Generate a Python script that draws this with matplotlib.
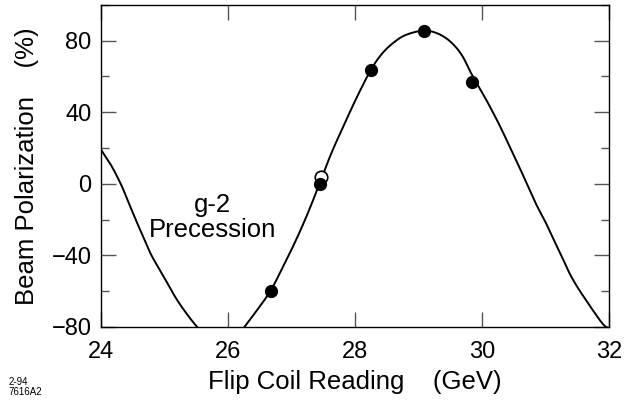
import matplotlib
matplotlib.use("Agg")
import matplotlib.pyplot as plt
import numpy as np
from matplotlib.ticker import MultipleLocator

plt.rcParams['font.family'] = ['Liberation Sans', 'DejaVu Sans']

# Measured points (filled) and one open point
gev_filled = [26.67, 27.44, 28.25, 29.08, 29.84]
pol_filled = [-59.8, 0.0, 63.7, 85.6, 56.8]
gev_open = [27.46]
pol_open = [3.7]

# Precession curve
curve_x = [24.00, 24.16, 24.32, 24.45, 24.56, 24.68, 24.79, 25.00, 25.21, 25.48,
           25.70, 25.90, 26.10, 26.28, 26.47, 26.67, 26.85, 27.05, 27.25,
           27.44, 27.62, 27.82, 28.03, 28.25, 28.42, 28.60, 28.80, 29.08, 29.30,
           29.50, 29.68, 29.84, 30.05, 30.28, 30.45, 30.60, 30.73, 30.86, 31.00,
           31.12, 31.26, 31.39, 31.52, 31.65, 31.78, 31.91, 32.00]
curve_y = [19.0, 10.2, -0.9, -12.0, -21.3, -31.0, -39.8, -52.8, -65.7, -78.7,
           -86.5, -90.0, -87.0, -79.0, -70.0, -59.8, -47.5, -33.0, -17.0,
           0.0, 16.5, 32.4, 48.5, 63.7, 72.5, 78.7, 83.2, 85.6, 84.0,
           79.5, 72.0, 61.0, 48.0, 32.4, 19.5, 8.3, -2.0, -12.0, -21.5,
           -30.6, -41.0, -50.9, -58.8, -65.7, -72.5, -78.7, -81.0]


def smooth_line(xs, ys, n=12):
    """Catmull-Rom rendering of a polyline through the given points."""
    p = np.column_stack([xs, ys]).astype(float)
    p = np.vstack([2 * p[0] - p[1], p, 2 * p[-1] - p[-2]])
    out = []
    t = np.linspace(0, 1, n, endpoint=False)[:, None]
    for i in range(1, len(p) - 2):
        p0, p1, p2, p3 = p[i - 1], p[i], p[i + 1], p[i + 2]
        seg = 0.5 * ((2 * p1) + (-p0 + p2) * t + (2 * p0 - 5 * p1 + 4 * p2 - p3) * t ** 2
                     + (-p0 + 3 * p1 - 3 * p2 + p3) * t ** 3)
        out.append(seg)
    out.append(p[-2][None, :])
    out = np.vstack(out)
    return out[:, 0], out[:, 1]


fig = plt.figure(figsize=(6.24, 4.05), dpi=100)
ax = fig.add_axes([0.162, 0.193, 0.814, 0.795])

sx, sy = smooth_line(curve_x, curve_y)
ax.plot(sx, sy, color='black', lw=1.4, zorder=2)
ax.plot(gev_open, pol_open, 'o', ms=9, mfc='white', mec='black', mew=1.2, zorder=3)
ax.plot(gev_filled, pol_filled, 'o', ms=8.5, mfc='black', mec='black', zorder=4)

ax.set_xlim(24, 32)
ax.set_ylim(-80, 100)
ax.set_xticks([24, 26, 28, 30, 32])
ax.set_yticks([-80, -40, 0, 40, 80])
ax.set_yticklabels(['\u221280', '\u221240', '0', '40', '80'])
ax.yaxis.set_minor_locator(MultipleLocator(20))

ax.tick_params(axis='both', which='major', direction='in', length=11, width=1.0,
               color='#555555', labelsize=17, top=True, right=True)
ax.tick_params(axis='y', which='minor', direction='in', length=5.5, width=1.0,
               color='#555555', right=True, left=True)
ax.tick_params(axis='x', which='major', pad=10)
ax.tick_params(axis='y', which='major', pad=7)

for s in ax.spines.values():
    s.set_linewidth(1.0)
    s.set_color('black')

ax.set_xlabel('Flip Coil Reading    (GeV)', fontsize=18.5, labelpad=5)
ax.set_ylabel('Beam Polarization    (%)', fontsize=18.5, labelpad=9)

ax.text(25.75, -12, 'g-2', ha='center', va='center', fontsize=18.5)
ax.text(25.75, -26, 'Precession', ha='center', va='center', fontsize=18.5)

fig.text(0.013, 0.045, '2-94\n7616A2', fontsize=7, ha='left', va='center', linespacing=1.0)

fig.savefig('out.png', dpi=100)
